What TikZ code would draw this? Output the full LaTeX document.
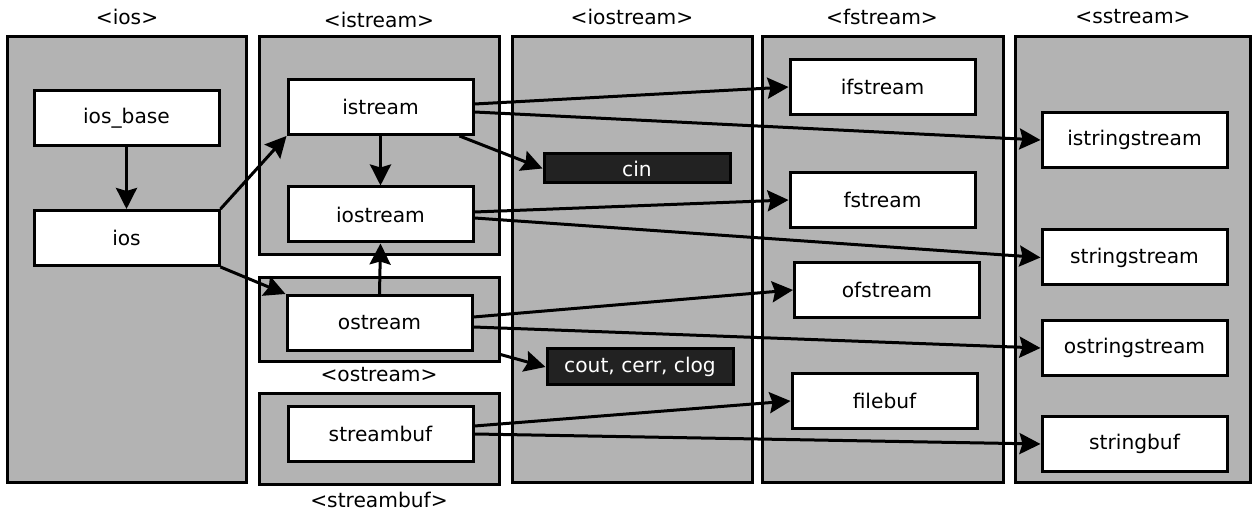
\documentclass[tikz,border=0pt]{standalone}
\usepackage{fontspec}
\setmainfont{DejaVu Sans}
\usetikzlibrary{arrows.meta}
\definecolor{cgray}{HTML}{B3B3B3}
\definecolor{cdark}{HTML}{222222}
\begin{document}
\begin{tikzpicture}[x=0.5pt,y=-0.5pt,
  every node/.style={font=\fontsize{10.1pt}{12pt}\selectfont, inner sep=0pt},
  cont/.style={draw=black, fill=cgray, line width=1.5pt, rectangle},
  wbox/.style={draw=black, fill=white, line width=1.5pt, rectangle, minimum width=92.5pt, minimum height=27.5pt},
  dbox/.style={draw=black, fill=cdark, text=white, line width=1.5pt, rectangle, minimum width=93pt},
  lbl/.style={},
  arr/.style={line width=1.5pt, -{Stealth[length=10.5pt,width=10.5pt,inset=1.5pt]}}]
\useasboundingbox (0,0) rectangle (1254,512);
% containers
\node[cont, minimum width=119.5pt, minimum height=223pt] (c-ios) at (126.5,260) {};
\node[cont, minimum width=120pt, minimum height=109pt] (c-istream) at (379,146) {};
\node[cont, minimum width=120pt, minimum height=42pt] (c-ostream) at (379,320) {};
\node[cont, minimum width=120pt, minimum height=45.5pt] (c-streambuf) at (379,439.5) {};
\node[cont, minimum width=120pt, minimum height=223pt] (c-iostream) at (632,260) {};
\node[cont, minimum width=120.5pt, minimum height=223pt] (c-fstream) at (882.5,260) {};
\node[cont, minimum width=117.5pt, minimum height=223pt] (c-sstream) at (1132.5,260) {};
% header labels
\node[lbl] (l-ios) at (127,17) {<ios>};
\node[lbl] (l-istream) at (379,20) {<istream>};
\node[lbl] (l-iostream) at (632,17) {<iostream>};
\node[lbl] (l-fstream) at (882,17) {<fstream>};
\node[lbl] (l-sstream) at (1133,17) {<sstream>};
\node[lbl] (l-ostream) at (379,375) {<ostream>};
\node[lbl] (l-streambuf) at (379,500) {<streambuf>};
% class boxes
\node[wbox] (iosbase) at (126.5,118) {ios\_base};
\node[wbox] (ios) at (126.5,238) {ios};
\node[wbox] (istream) at (380.5,107) {istream};
\node[wbox] (iostream) at (380.5,214.5) {iostream};
\node[wbox] (ostream) at (379.5,323) {ostream};
\node[wbox] (streambuf) at (380.5,434) {streambuf};
\node[dbox, minimum height=14.5pt] (cin) at (637,168.5) {cin};
\node[dbox, minimum height=18pt] (cout) at (640,367) {cout, cerr, clog};
\node[wbox] (ifstream) at (882.5,87) {ifstream};
\node[wbox] (fstream) at (882.5,200) {fstream};
\node[wbox] (ofstream) at (887,290) {ofstream};
\node[wbox] (filebuf) at (884.5,401) {filebuf};
\node[wbox] (istringstream) at (1134.5,140) {istringstream};
\node[wbox] (stringstream) at (1134.5,257.5) {stringstream};
\node[wbox] (ostringstream) at (1134.5,348) {ostringstream};
\node[wbox] (stringbuf) at (1134.5,444) {stringbuf};
% arrows
\draw[arr] (iosbase.south) -- (ios.north);
\draw[arr] (ios.north east) -- (istream.south west);
\draw[arr] (ios.south east) -- (ostream.north west);
\draw[arr] (istream.south) -- (iostream.north);
\draw[arr] (ostream.north) -- (iostream.south);
\draw[arr] ([yshift=1.5pt]istream.east) -- (ifstream.west);
\draw[arr] ([yshift=-2.5pt]istream.east) -- (istringstream.west);
\draw[arr] ([xshift=-7.5pt]istream.south east) -- (cin.west);
\draw[arr] ([yshift=1.25pt]iostream.east) -- (fstream.west);
\draw[arr] ([yshift=-1.75pt]iostream.east) -- (stringstream.west);
\draw[arr] ([yshift=3pt]ostream.east) -- (ofstream.west);
\draw[arr] ([yshift=-2pt]ostream.east) -- (ostringstream.west);
\draw[arr] ([yshift=4.5pt]c-ostream.south east) -- (cout.west);
\draw[arr] ([yshift=4pt]streambuf.east) -- (filebuf.west);
\draw[arr] (streambuf.east) -- (stringbuf.west);
\end{tikzpicture}
\end{document}
